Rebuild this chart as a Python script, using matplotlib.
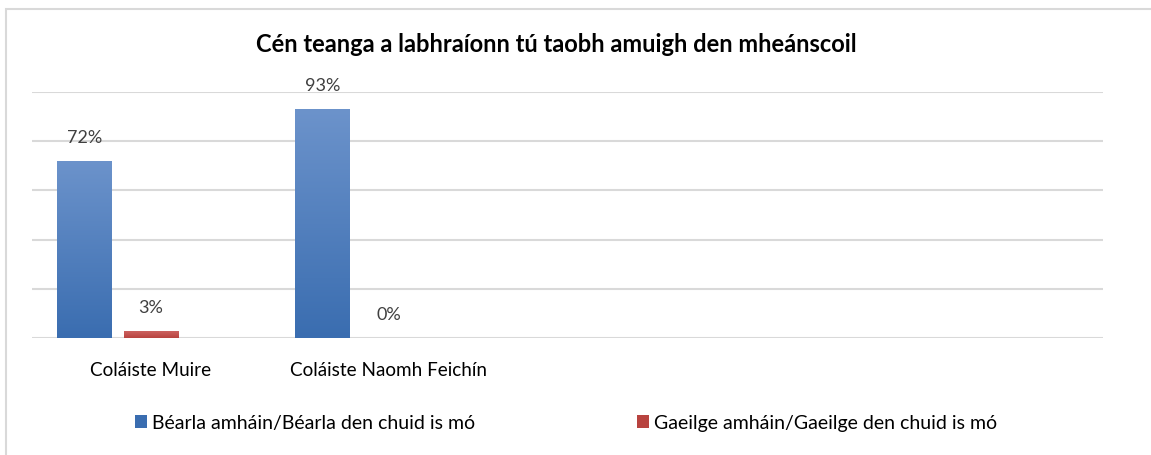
import numpy as np
import matplotlib
matplotlib.use("Agg")
import matplotlib.pyplot as plt
from matplotlib.patches import Rectangle, Patch
from matplotlib.colors import LinearSegmentedColormap

# ============================================================
# DONNEES
# ============================================================

TITRE = "Cén teanga a labhraíonn tú taobh amuigh den mheánscoil"
ECOLES = ["Coláiste Muire", "Coláiste Naomh Feichín"]
SERIES = ["Béarla amháin/Béarla den chuid is mó",
          "Gaeilge amháin/Gaeilge den chuid is mó"]
BEARLA = [0.72, 0.93]
GAEILGE = [0.03, 0.00]

W, H = 1151, 455
POLICE = ["Lato", "DejaVu Sans"]

# (haut, bas) du degrade de chaque serie
COULEURS = [("#6C93CB", "#3A6DB0"), ("#CF6664", "#B8433F")]


def degrade(ax, barres, haut, bas):
    cmap = LinearSegmentedColormap.from_list("g", [bas, haut])
    grad = np.linspace(0, 1, 256).reshape(-1, 1)
    for b in barres:
        x0, y0 = b.get_x(), b.get_y()
        w, h = b.get_width(), b.get_height()
        if h <= 0:
            continue
        im = ax.imshow(grad, cmap=cmap, origin="lower", aspect="auto",
                       extent=(x0, x0 + w, y0, y0 + h), zorder=3)
        im.set_clip_path(b)


fig = plt.figure(figsize=(W / 100, H / 100), dpi=100)

# cadre gris clair autour du graphique
fig.patches.append(Rectangle((6 / W, -0.1), 1.2, (H - 9) / H + 0.1,
                             transform=fig.transFigure, fill=False,
                             edgecolor="#D9D9D9", linewidth=1.5))

ax = fig.add_axes([32 / W, (H - 338) / H, (1103 - 32) / W, (338 - 92) / H])

x = np.arange(len(ECOLES))
larg = 0.23
pas = 0.28

b1 = ax.bar(x - pas, BEARLA, larg, color=COULEURS[0][1], zorder=2)
b2 = ax.bar(x, GAEILGE, larg, color=COULEURS[1][1], zorder=2)
degrade(ax, b1, *COULEURS[0])
degrade(ax, b2, *COULEURS[1])

for barres, vals in [(b1, BEARLA), (b2, GAEILGE)]:
    for b, v in zip(barres, vals):
        ax.annotate(f"{round(v * 100)}%", (b.get_x() + b.get_width() / 2, v),
                    xytext=(0, 23), textcoords="offset pixels",
                    ha="center", va="center", fontsize=13, color="#404040",
                    family=POLICE, zorder=5)

ax.set_xlim(-0.5, 4.0)
ax.set_ylim(0, 1)
ax.set_yticks(np.arange(0, 1.01, 0.2))
ax.yaxis.grid(True, color="#D9D9D9", linewidth=1.5)
ax.set_axisbelow(True)
ax.tick_params(axis="y", left=False, labelleft=False)
ax.set_xticks(x)
ax.set_xticklabels(ECOLES, fontsize=13.6, family=POLICE, color="#000000")
ax.tick_params(axis="x", length=0, pad=17)
for s in ax.spines.values():
    s.set_visible(False)

fig.text(556 / W, 1 - 45 / H, TITRE, ha="center", va="center",
         fontsize=17, fontweight="bold", family=POLICE)

poignees = [Patch(facecolor=COULEURS[0][1]), Patch(facecolor=COULEURS[1][1])]
leg = fig.legend(poignees, SERIES, loc="center", bbox_to_anchor=(566 / W, 1 - 423 / H),
                 ncol=2, frameon=False, handlelength=0.62, handleheight=0.62,
                 handletextpad=0.27, columnspacing=8.3,
                 prop={"family": POLICE, "size": 14})

fig.savefig("out.png", dpi=100)
